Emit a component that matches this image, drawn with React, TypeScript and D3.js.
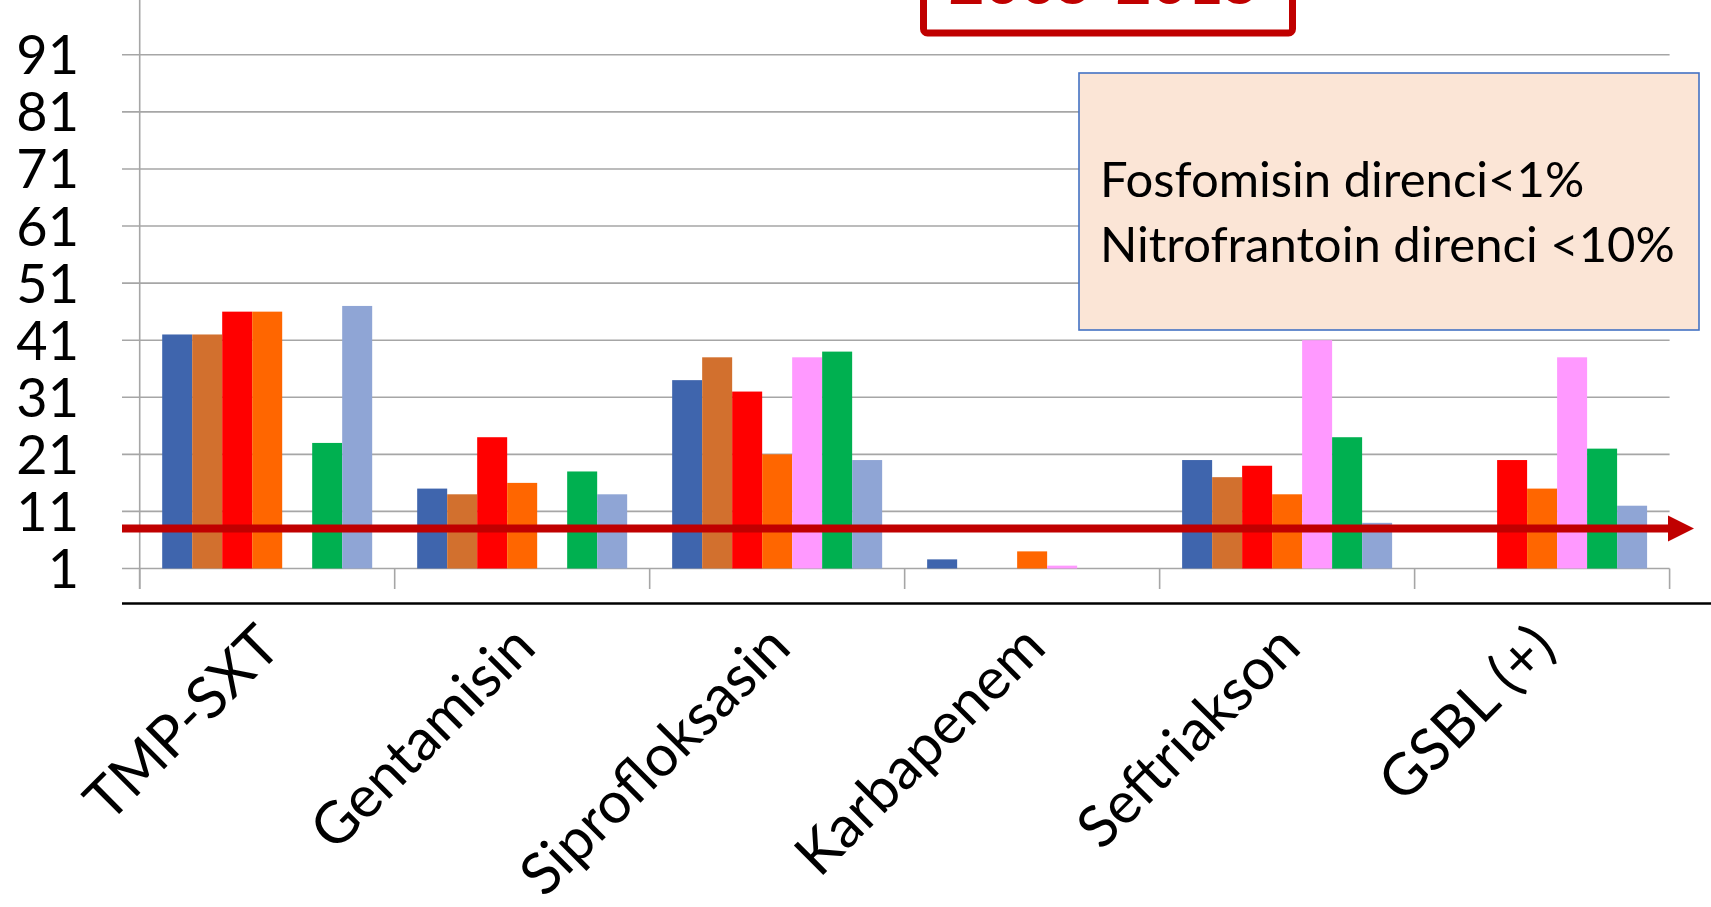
import React from "react";
import * as d3 from "d3";

const categories = ["TMP-SXT", "Gentamisin", "Siprofloksasin", "Karbapenem", "Seftriakson", "GSBL (+)"];
const seriesColors = ["#3F65AD", "#D2702E", "#FF0000", "#FF6600", "#FF99FF", "#00B050", "#8FA5D5"];
const s1 = [42, 15, 34, 2.6, 20, null];
const s2 = [42, 14, 38, null, 17, null];
const s3 = [46, 24, 32, null, 19, 20];
const s4 = [46, 16, 21, 4, 14, 15];
const s5 = [null, null, 38, 1.5, 41, 38];
const s6 = [23, 18, 39, null, 24, 22];
const s7 = [47, 14, 20, null, 9, 12];
const seriesValues: (number | null)[][] = [s1, s2, s3, s4, s5, s6, s7];
const yTicks = [1, 11, 21, 31, 41, 51, 61, 71, 81, 91];
const threshold = 8;
const titleText = "2005-2015";
const noteLines = ["Fosfomisin direnci<1%", "Nitrofrantoin direnci <10%"];

const W = 1711;
const H = 907;
const FONT = "Lato, 'Open Sans', sans-serif";

export default function App() {
  const x = d3.scaleBand<string>().domain(categories).range([139.7, 1669.6]).padding(0);
  const inner = d3
    .scaleBand<number>()
    .domain(d3.range(seriesValues.length))
    .range([0, x.bandwidth()])
    .paddingInner(0)
    .paddingOuter(0.75);
  const y = d3.scaleLinear().domain([1, 91]).range([568.5, 54.8]);
  const base = y(1);
  const gridLeft = 122;
  const gridRight = 1669.6;
  const ty = y(threshold);

  const tickXs = [...categories.map((c) => x(c)!), x.range()[1]];

  return (
    <svg
      width={W}
      height={H}
      style={{ position: "absolute", left: 0, top: 0, background: "#fff" }}
      fontFamily={FONT}
    >
      {/* gridlines */}
      {yTicks.map((t) => (
        <line key={t} x1={gridLeft} x2={gridRight} y1={y(t)} y2={y(t)} stroke="#A6A6A6" strokeWidth={1.6} />
      ))}
      {/* vertical axis */}
      <line x1={139.7} x2={139.7} y1={0} y2={589} stroke="#A6A6A6" strokeWidth={1.6} />
      {/* category ticks */}
      {tickXs.map((tx, i) => (
        <line key={i} x1={tx} x2={tx} y1={base} y2={589} stroke="#A6A6A6" strokeWidth={1.6} />
      ))}
      {/* y labels */}
      {yTicks.map((t) => (
        <text key={t} x={79} y={y(t) + 19.5} textAnchor="end" fontSize={54} fill="#000">
          {t}
        </text>
      ))}
      {/* bars */}
      {seriesValues.map((vals, si) =>
        vals.map((v, ci) =>
          v == null ? null : (
            <rect
              key={`${si}-${ci}`}
              x={x(categories[ci])! + inner(si)!}
              y={y(v)}
              width={inner.bandwidth()}
              height={base - y(v)}
              fill={seriesColors[si]}
            />
          )
        )
      )}
      {/* black axis line */}
      <line x1={122} x2={1711} y1={603.5} y2={603.5} stroke="#000" strokeWidth={2.5} />
      {/* category labels */}
      {categories.map((c) => {
        const cx = x(c)! + x.bandwidth() / 2 + 16;
        const cy = 650;
        return (
          <text
            key={c}
            x={cx}
            y={cy}
            textAnchor="end"
            fontSize={58}
            fill="#000"
            transform={`rotate(-45 ${cx} ${cy})`}
          >
            {c}
          </text>
        );
      })}
      {/* threshold arrow */}
      <line x1={122} x2={1672} y1={ty} y2={ty} stroke="#C00000" strokeWidth={8} />
      <polygon points={`1668,${ty - 13} 1694,${ty} 1668,${ty + 13}`} fill="#C00000" />
      {/* note box */}
      <rect x={1079} y={73} width={620} height={257} fill="#FBE5D6" stroke="#4472C4" strokeWidth={1.6} />
      {noteLines.map((l, i) => (
        <text key={i} x={1100} y={197 + i * 65} fontSize={49} fill="#000">
          {l}
        </text>
      ))}
      {/* title box (cropped at top) */}
      <rect x={923.5} y={-40} width={369} height={73} rx={4} fill="#fff" stroke="#C00000" strokeWidth={7} />
      <text x={1104} y={4} textAnchor="middle" fontSize={62} fontWeight="bold" fill="#C00000">
        {titleText}
      </text>
    </svg>
  );
}
